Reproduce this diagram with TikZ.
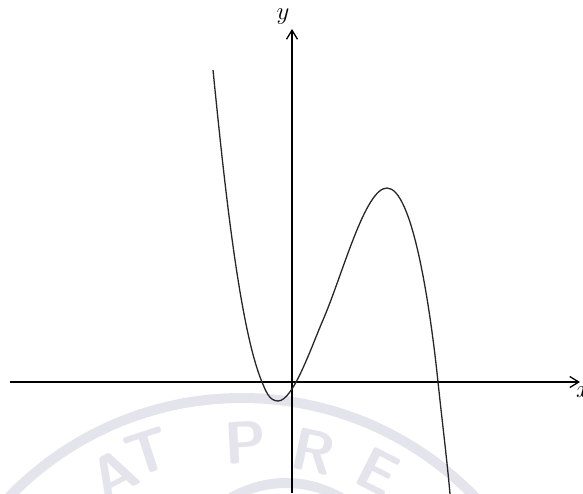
\documentclass[tikz,border=0pt]{standalone}
\usetikzlibrary{arrows.meta}
\definecolor{wmark}{RGB}{228,228,236}
\tikzset{
  axis/.style={line width=1.6pt,-{Straight Barb[length=9pt,width=11pt,line width=1.3pt]}},
  curve/.style={line width=1.3pt,black!85},
  wm/.style={text=wmark,font=\sffamily\bfseries\fontsize{60}{60}\selectfont,inner sep=0pt},
  lbl/.style={font=\fontsize{23}{23}\selectfont,inner sep=0pt}
}
\begin{document}
\begin{tikzpicture}[x=1pt,y=-1pt]
\useasboundingbox (0,0) rectangle (583,493);
\clip (0,0) rectangle (583,493);
% watermark
\fill[wmark,even odd rule] (242,721.5) circle[radius=328.5] circle[radius=318.5];
\fill[wmark,even odd rule] (286,760) circle[x radius=175, y radius=282] circle[x radius=168, y radius=272];
\node[wm,rotate=28] (wa) at (114,474) {A};
\node[wm,rotate=18] (wt) at (148,452) {T};
\node[wm,rotate=3] (wp) at (245,443) {P};
\node[wm,rotate=-12] (wr) at (313,452) {R};
\node[wm,rotate=-27] (we) at (378,472) {E};
% axes
\coordinate (xl) at (10,382);
\coordinate (xr) at (580,382);
\coordinate (yb) at (292,493);
\coordinate (yt) at (292,29);
\draw[axis] (xl) -- (xr);
\draw[axis] (yb) -- (yt);
\node[lbl] (ylab) at (283,17) {$y$};
\node[lbl] (xlab) at (583,392) {$x$};
% curve
\coordinate (ca) at (213,70);
\coordinate (cb) at (262,382);
\coordinate (cm) at (278,401);
\coordinate (cc) at (323,320);
\coordinate (cp) at (387,188);
\coordinate (cd) at (438,382);
\coordinate (ce) at (450,494);
\draw[curve] (ca) .. controls (223.5,174.5) and (239,327) .. (cb)
  .. controls (265.5,390.3) and (269,401) .. (cm)
  .. controls (293,401) and (310.7,348.5) .. (cc)
  .. controls (342.5,275) and (365,188) .. (cp)
  .. controls (412,188) and (429.7,302.4) .. (cd)
  .. controls (442,420) and (447,460) .. (ce);
\end{tikzpicture}
\end{document}
